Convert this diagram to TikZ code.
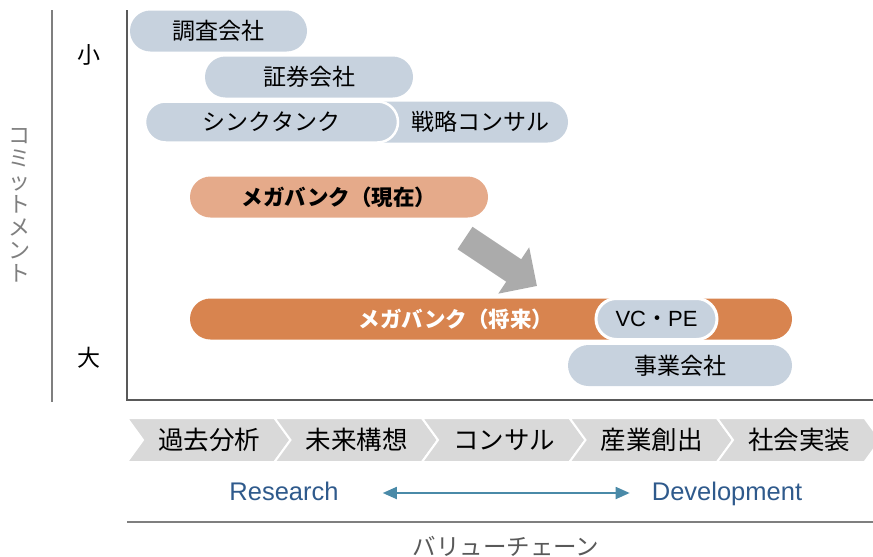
\documentclass[tikz,border=0pt]{standalone}
\usepackage{fontspec}
\setmainfont{Liberation Sans}
\newfontfamily\jp{Noto Sans CJK JP}
\usetikzlibrary{arrows.meta,positioning}
\definecolor{pillblue}{HTML}{C7D2DE}
\definecolor{lightorange}{HTML}{E5AA8A}
\definecolor{deeporange}{HTML}{D8844F}
\definecolor{chevgray}{HTML}{D9D9D9}
\definecolor{axisgray}{HTML}{595959}
\definecolor{linegray}{HTML}{7F7F7F}
\definecolor{rdblue}{HTML}{2F5A8C}
\definecolor{rdarrow}{HTML}{4A8AA8}
\definecolor{movegray}{HTML}{ABABAB}

\begin{document}
\begin{tikzpicture}[x=1pt,y=-1pt,
  pill/.style={rectangle,rounded corners=20.5pt,fill=pillblue,minimum height=41pt,
               inner sep=0pt,font=\jp\fontsize{23}{26}\selectfont},
  plain/.style={font=\jp\fontsize{23}{26}\selectfont,inner sep=0pt},
  chevron/.style={fill=chevgray,draw=white,line width=2pt},
  stagetext/.style={font=\jp\fontsize{25.5}{28}\selectfont,inner sep=0pt},
  rdtext/.style={font=\fontsize{25.5}{28}\selectfont,text=rdblue,inner sep=0pt,
                 text height=18pt,text depth=4pt},
  axis/.style={draw=axisgray,line width=2pt},
  movearrow/.style={draw=movegray,line width=27pt,-{Triangle[length=28pt,width=54pt]}},
  rdarr/.style={draw=rdarrow,line width=1.8pt,
                {Triangle[length=14pt,width=12pt]}-{Triangle[length=14pt,width=12pt]}}
]
  \useasboundingbox (0,0) rectangle (873,557);

  \draw[draw=linegray,line width=1.6pt] (52,10) -- (52,402);
  \draw[axis] (127,10) -- (127,400) -- (873,400);
  \node[plain,text=linegray,align=center,font=\jp\fontsize{22}{23}\selectfont] (commit) at (20,205)
    {コ\\ミ\\ッ\\ト\\メ\\ン\\ト};
  \node[plain] (small) at (89,55) {小};
  \node[plain] (large) at (89,358) {大};

  \node[pill,minimum width=177pt] (chousa) at (218.5,31) {調査会社};
  \node[pill,minimum width=208pt] (shouken) at (309,77) {証券会社};
  \node[pill,minimum width=212pt] (senryaku) at (462,122) {};
  \node[plain] (senryakuText) at (480,122) {戦略コンサル};
  \node[pill,minimum width=253pt,draw=white,line width=2.5pt] (think) at (271.5,122) {シンクタンク};

  \node[pill,minimum width=298pt,fill=lightorange,font=\jp\bfseries\fontsize{21.5}{26}\selectfont]
    (genzai) at (339,197) {メガバンク（現在）};
  \node[pill,minimum width=602pt,fill=deeporange,
    label={[xshift=-35pt,text=white,font=\jp\bfseries\fontsize{21.5}{26}\selectfont]center:メガバンク（将来）}]
    (shourai) at (491,319) {};
  \node[pill,minimum width=121pt,draw=white,line width=3pt,font=\rmfamily\fontsize{22}{26}\selectfont]
    (vcpe) at (656.5,319) {VC{\jp ・}PE};
  \node[pill,minimum width=224pt] (jigyou) at (680,365.5) {事業会社};

  \coordinate (moveFrom) at (465,238);
  \coordinate (moveTo) at (537,286);
  \draw[movearrow] (moveFrom) -- (moveTo);

  \foreach \name [count=\i from 0] in {過去分析,未来構想,コンサル,産業創出,社会実装}{
    \pgfmathsetmacro{\xl}{127+147.5*\i}
    \filldraw[chevron] (\xl,418) -- ++(147.5,0) -- ++(16,22) -- ++(-16,22)
      -- ++(-147.5,0) -- ++(16,-22) -- cycle;
    \node[stagetext] (stage\i) at (\xl+82,440) {\name};
  }

  \node[rdtext] (research) at (284,493) {Research};
  \node[rdtext] (develop) at (727,493) {Development};
  \draw[rdarr,shorten <=44pt,shorten >=22pt] (research) -- (develop);

  \draw[draw=linegray,line width=2pt] (127,522) -- (873,522);
  \node[plain,text=axisgray,font=\jp\fontsize{23.5}{26}\selectfont] (chain) at (506,546) {バリューチェーン};
\end{tikzpicture}
\end{document}
